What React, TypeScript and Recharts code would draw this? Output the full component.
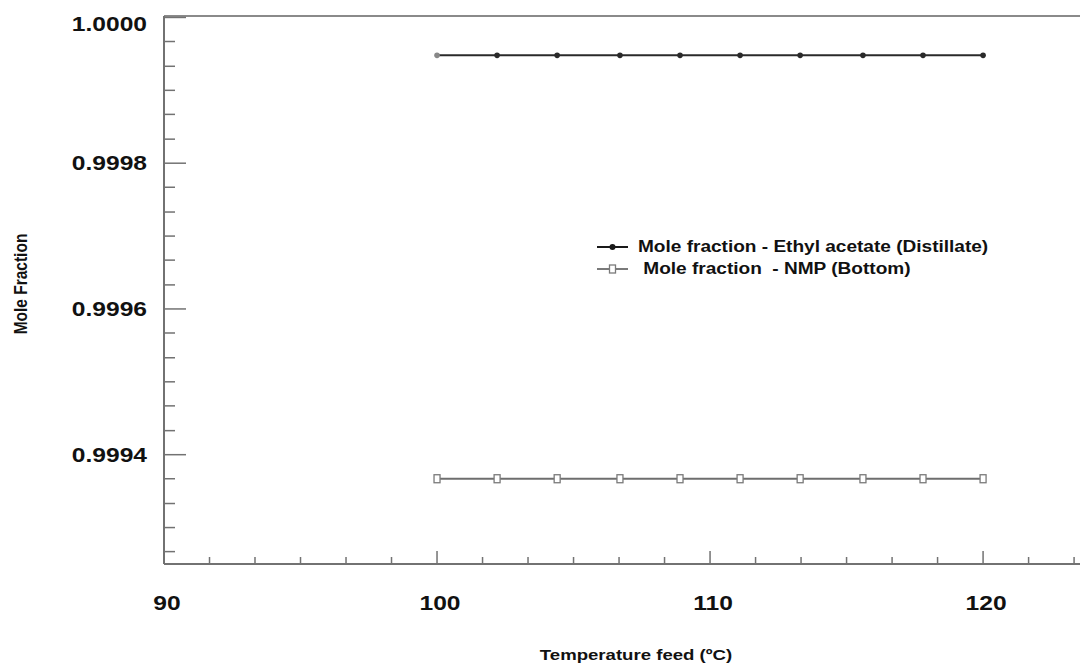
import React from 'react';
import { LineChart, Line, XAxis, YAxis, Legend, ReferenceLine } from 'recharts';

const temperatures = [100, 102.2, 104.4, 106.7, 108.9, 111.1, 113.3, 115.6, 117.8, 120];
const ethylAcetateDistillate = [0.999948, 0.999948, 0.999948, 0.999948, 0.999948, 0.999948, 0.999948, 0.999948, 0.999948, 0.999948];
const nmpBottom = [0.999367, 0.999367, 0.999367, 0.999367, 0.999367, 0.999367, 0.999367, 0.999367, 0.999367, 0.999367];
const seriesNames = ['Mole fraction - Ethyl acetate (Distillate)', ' Mole fraction  - NMP (Bottom)'];

const xMajorTicks = [90, 100, 110, 120];
const xMinorTicks = [91.667, 93.333, 95, 96.667, 98.333, 101.667, 103.333, 105, 106.667, 108.333, 111.667, 113.333, 115, 116.667, 118.333, 121.667, 123.333];
const yMajorTicks = [0.9994, 0.9996, 0.9998, 1.0];
const yMinorTicks = [
  0.999267, 0.9993, 0.999333, 0.999367,
  0.999433, 0.999467, 0.9995, 0.999533, 0.999567,
  0.999633, 0.999667, 0.9997, 0.999733, 0.999767,
  0.999833, 0.999867, 0.9999, 0.999933, 0.999967,
];
const xDomain = [90, 123.55];
const yDomain = [0.99925, 1.000002];
const xTitle = 'Temperature feed (ºC)';
const yTitle = 'Mole Fraction';

const data = temperatures.map((t, i) => ({ t, ea: ethylAcetateDistillate[i], nmp: nmpBottom[i] }));

const FONT = '"Liberation Sans", Arial, sans-serif';
const AXIS = '#727272';

const isIn = (arr: number[], v: number) => arr.some((a) => Math.abs(a - v) < 1e-7);

const XTick = (props: any) => {
  const { x, y, payload } = props;
  const major = isIn(xMajorTicks, payload.value);
  return (
    <g>
      <line x1={x} x2={x} y1={y} y2={y - (major ? 13 : 7)} stroke={AXIS} strokeWidth={1.5} />
      {major && (
        <text
          transform={`translate(${x + 3},${y + 39}) scale(1.2,1)`}
          textAnchor="middle"
          dy="0.35em"
          fontFamily={FONT}
          fontWeight="bold"
          fontSize={20.5}
          fill="#111"
        >
          {payload.value}
        </text>
      )}
    </g>
  );
};

const YTick = (props: any) => {
  const { x, y, payload } = props;
  const major = isIn(yMajorTicks, payload.value);
  const ly = Math.max(y, 24);
  return (
    <g>
      <line x1={x} x2={x + (major ? 22 : 11)} y1={y} y2={y} stroke={AXIS} strokeWidth={1.5} />
      {major && (
        <text
          transform={`translate(${x - 17},${ly}) scale(1.2,1)`}
          textAnchor="end"
          dy="0.35em"
          fontFamily={FONT}
          fontWeight="bold"
          fontSize={20.5}
          fill="#111"
        >
          {Number(payload.value).toFixed(4)}
        </text>
      )}
    </g>
  );
};

const EaDot = (props: any) => {
  const { cx, cy, index } = props;
  return <circle key={`ea-${index}`} cx={cx} cy={cy} r={2.8} fill={index === 0 ? '#888' : '#2a2a2a'} />;
};

const NmpDot = (props: any) => {
  const { cx, cy, index } = props;
  return <rect key={`nmp-${index}`} x={cx - 3} y={cy - 4} width={6} height={8} fill="#fff" stroke="#7a7a7a" strokeWidth={1.3} />;
};

const LegendContent = () => (
  <div style={{ fontFamily: FONT, fontWeight: 'bold', fontSize: 16, color: '#111' }}>
    {seriesNames.map((name, i) => (
      <div key={name} style={{ display: 'flex', alignItems: 'center', height: 22, whiteSpace: 'pre' }}>
        <svg width={31} height={12} style={{ flex: 'none' }}>
          <line x1={0} x2={31} y1={6} y2={6} stroke={i === 0 ? '#1a1a1a' : '#7a7a7a'} strokeWidth={2} />
          {i === 0 ? (
            <circle cx={15.5} cy={6} r={3} fill="#1a1a1a" />
          ) : (
            <rect x={12.5} y={2} width={6} height={8} fill="#fff" stroke="#7a7a7a" strokeWidth={1.3} />
          )}
        </svg>
        <span style={{ display: 'inline-block', marginLeft: 10, transform: 'scaleX(1.19)', transformOrigin: 'left center' }}>{name}</span>
      </div>
    ))}
  </div>
);

export default function App() {
  return (
    <div style={{ position: 'absolute', left: 0, top: 0, width: 1080, height: 666, background: '#fff' }}>
      <LineChart width={1080} height={666} data={data} margin={{ top: 16, right: 0, bottom: 0, left: 0 }}>
        <XAxis
          dataKey="t"
          type="number"
          domain={xDomain}
          ticks={[...xMajorTicks, ...xMinorTicks].sort((a, b) => a - b)}
          interval={0}
          allowDataOverflow
          height={102}
          tickSize={0}
          tickMargin={0}
          tickLine={false}
          axisLine={{ stroke: AXIS, strokeWidth: 2 }}
          tick={<XTick />}
          label={{
            content: (p: any) => {
              const vb = p.viewBox;
              return (
                <text
                  transform={`translate(${vb.x + vb.width / 2 + 14},${655}) scale(1.2,1)`}
                  textAnchor="middle"
                  dy="0.35em"
                  fontFamily={FONT}
                  fontWeight="bold"
                  fontSize={15.5}
                  fill="#111"
                >
                  {xTitle}
                </text>
              );
            },
          }}
        />
        <YAxis
          type="number"
          domain={yDomain}
          ticks={[...yMajorTicks, ...yMinorTicks].sort((a, b) => a - b)}
          interval={0}
          allowDataOverflow
          width={164}
          tickSize={0}
          tickMargin={0}
          tickLine={false}
          axisLine={{ stroke: AXIS, strokeWidth: 2 }}
          tick={<YTick />}
          label={{
            content: () => (
              <text
                transform={`translate(20,284) scale(1.2,1) rotate(-90)`}
                textAnchor="middle"
                dy="0.35em"
                fontFamily={FONT}
                fontWeight="bold"
                fontSize={15.5}
                fill="#111"
              >
                {yTitle}
              </text>
            ),
          }}
        />
        <ReferenceLine y={yDomain[1]} stroke="#8a8a8a" strokeWidth={2} ifOverflow="visible" />
        <Line
          dataKey="ea"
          name={seriesNames[0]}
          type="linear"
          stroke="#2a2a2a"
          strokeWidth={2}
          dot={<EaDot />}
          isAnimationActive={false}
        />
        <Line
          dataKey="nmp"
          name={seriesNames[1]}
          type="linear"
          stroke="#6e6e6e"
          strokeWidth={2}
          dot={<NmpDot />}
          isAnimationActive={false}
        />
        <Legend
          layout="horizontal"
          align="center"
          verticalAlign="middle"
          content={<LegendContent />}
          wrapperStyle={{ position: 'absolute', left: 597, top: 236, width: 460, height: 44 }}
        />
      </LineChart>
    </div>
  );
}
